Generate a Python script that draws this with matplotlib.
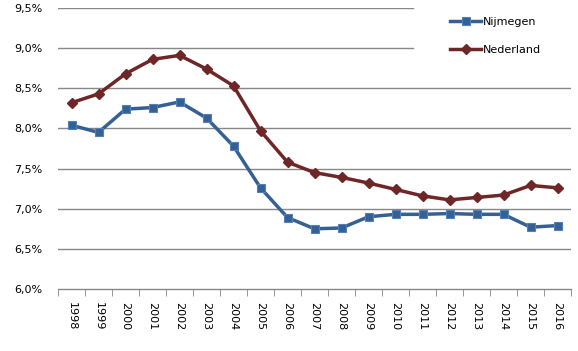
import numpy as np
import matplotlib
matplotlib.use("Agg")
import matplotlib.pyplot as plt
from matplotlib.ticker import FuncFormatter

# --------------------------
# Data
# --------------------------
years = [str(y) for y in range(1998, 2017)]
nijmegen = [8.04, 7.95, 8.24, 8.26, 8.33, 8.13, 7.78, 7.26, 6.89, 6.75,
            6.76, 6.90, 6.93, 6.93, 6.94, 6.93, 6.93, 6.77, 6.79]
nederland = [8.32, 8.43, 8.68, 8.86, 8.91, 8.74, 8.53, 7.97, 7.58, 7.45,
             7.39, 7.32, 7.24, 7.16, 7.11, 7.14, 7.17, 7.29, 7.26]
y_ticks = [6.0, 6.5, 7.0, 7.5, 8.0, 8.5, 9.0, 9.5]

BLUE = "#376092"
RED = "#6E2627"
GRID = "#878787"

fig = plt.figure(figsize=(5.78, 3.51), dpi=100)
ax = fig.add_axes([58 / 578, 1 - 289 / 351, (571 - 58) / 578, (289 - 8) / 351])

x = np.arange(len(years))
ax.plot(x, nijmegen, color=BLUE, lw=2.5, marker="s", ms=6.2,
        mfc=BLUE, mec="#4F81BD", mew=0.8, label="Nijmegen", zorder=3)
ax.plot(x, nederland, color=RED, lw=2.5, marker="D", ms=5,
        mfc=RED, mec=RED, label="Nederland", zorder=3)

ax.set_xlim(-0.5, len(years) - 0.5)
ax.set_ylim(6.0, 9.5)

# gridlines: top two stop short where the legend sits
for v in y_ticks[1:]:
    xmax = (413 - 58) / (571 - 58) if v >= 9.0 else 1.0
    ax.axhline(v, xmin=0, xmax=xmax, color=GRID, lw=1, zorder=1)

for s in ["top", "right", "left"]:
    ax.spines[s].set_visible(False)
ax.spines["bottom"].set_color(GRID)
ax.spines["bottom"].set_linewidth(1)

ax.set_yticks(y_ticks)
ax.yaxis.set_major_formatter(FuncFormatter(lambda v, p: f"{v:.1f}%".replace(".", ",")))
ax.tick_params(axis="y", length=0, pad=11, labelsize=8)

ax.set_xticks(x)
ax.set_xticklabels(years, rotation=270, fontsize=8)
ax.tick_params(axis="x", length=0, pad=9)
ax.set_xticks(np.arange(-0.5, len(years)), minor=True)
ax.tick_params(axis="x", which="minor", length=5, color=GRID, direction="out")

leg = ax.legend(loc="upper left", bbox_to_anchor=(440 / 578, 1 - 7 / 351),
                bbox_transform=fig.transFigure, frameon=False, fontsize=8,
                handlelength=2.8, labelspacing=1.6, handletextpad=0.2)

fig.savefig("out.png", dpi=100)
